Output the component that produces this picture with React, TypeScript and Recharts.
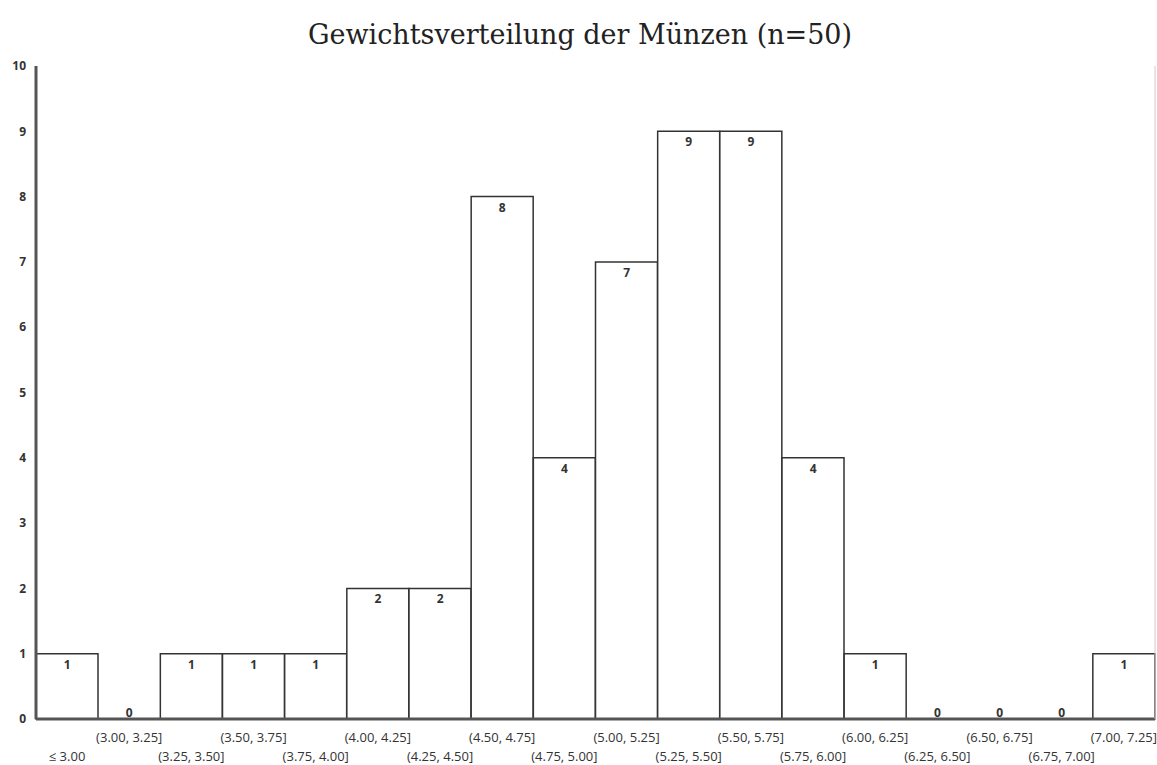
import React from 'react';
import { ComposedChart, Bar, Line, XAxis, YAxis, LabelList } from 'recharts';

// Weight classes (grams) and counts per class
const categories = [
  '≤ 3.00',
  '(3.00, 3.25]',
  '(3.25, 3.50]',
  '(3.50, 3.75]',
  '(3.75, 4.00]',
  '(4.00, 4.25]',
  '(4.25, 4.50]',
  '(4.50, 4.75]',
  '(4.75, 5.00]',
  '(5.00, 5.25]',
  '(5.25, 5.50]',
  '(5.50, 5.75]',
  '(5.75, 6.00]',
  '(6.00, 6.25]',
  '(6.25, 6.50]',
  '(6.50, 6.75]',
  '(6.75, 7.00]',
  '(7.00, 7.25]'
];
const counts = [1, 0, 1, 1, 1, 2, 2, 8, 4, 7, 9, 9, 4, 1, 0, 0, 0, 1];
const yTicks = [0, 1, 2, 3, 4, 5, 6, 7, 8, 9, 10];

const data = categories.map((name, i) => ({ name, count: counts[i] }));

const FONT = '"Open Sans", sans-serif';
const INK = '#333333';

// alternate tick labels on two rows so they don't collide
const StaggeredTick: React.FC<any> = ({ x, y, payload, index }) => {
  const lower = index % 2 === 0;
  return (
    <text
      x={x}
      y={y}
      dy={lower ? 34 : 15}
      textAnchor="middle"
      fill={INK}
      fontSize={13}
      fontFamily={FONT}
    >
      {payload.value}
    </text>
  );
};

// value labels: inside the top of the bar, or just above the baseline for empty classes
const CountLabel: React.FC<any> = ({ x, y, value }) => {
  const zero = !value;
  return (
    <text
      x={x}
      y={zero ? y - 2 : y + 15}
      textAnchor="middle"
      fill={INK}
      fontSize={12}
      fontWeight="bold"
      fontFamily={FONT}
    >
      {String(value)}
    </text>
  );
};

export default function App() {
  return (
    <div style={{ position: 'absolute', left: 0, top: 0, width: 1157, height: 765, background: '#fff' }}>
      <div
        style={{
          position: 'absolute',
          left: 0,
          top: 19,
          width: 1160,
          textAlign: 'center',
          fontFamily: '"DejaVu Serif", serif',
          fontSize: 27,
          color: '#222'
        }}
      >
        Gewichtsverteilung der Münzen (n=50)
      </div>
      <ComposedChart
        width={1157}
        height={765}
        data={data}
        margin={{ top: 66, right: 0, left: 0, bottom: 0 }}
        barCategoryGap={0}
      >
        <XAxis
          dataKey="name"
          interval={0}
          tickLine={false}
          tick={<StaggeredTick />}
          height={46}
          axisLine={{ stroke: '#555', strokeWidth: 3 }}
        />
        <XAxis
          xAxisId="top"
          orientation="top"
          dataKey="name"
          height={0}
          tick={false}
          tickLine={false}
          axisLine={{ stroke: '#666', strokeWidth: 2 }}
        />
        <YAxis
          domain={[0, 10]}
          ticks={yTicks}
          interval={0}
          width={36}
          tickLine={false}
          tickSize={4}
          tickMargin={6}
          tick={{ fontSize: 12, fontWeight: 'bold', fill: INK, fontFamily: FONT }}
          axisLine={{ stroke: '#555', strokeWidth: 3 }}
        />
        <YAxis
          yAxisId="right"
          orientation="right"
          domain={[0, 10]}
          width={2}
          tick={false}
          tickLine={false}
          axisLine={{ stroke: '#ccc', strokeWidth: 1 }}
        />
        <Bar dataKey="count" fill="#fff" stroke={INK} strokeWidth={1.5} isAnimationActive={false} />
        <Line
          dataKey="count"
          stroke="none"
          dot={false}
          activeDot={false}
          isAnimationActive={false}
        >
          <LabelList dataKey="count" content={<CountLabel />} />
        </Line>
      </ComposedChart>
    </div>
  );
}
